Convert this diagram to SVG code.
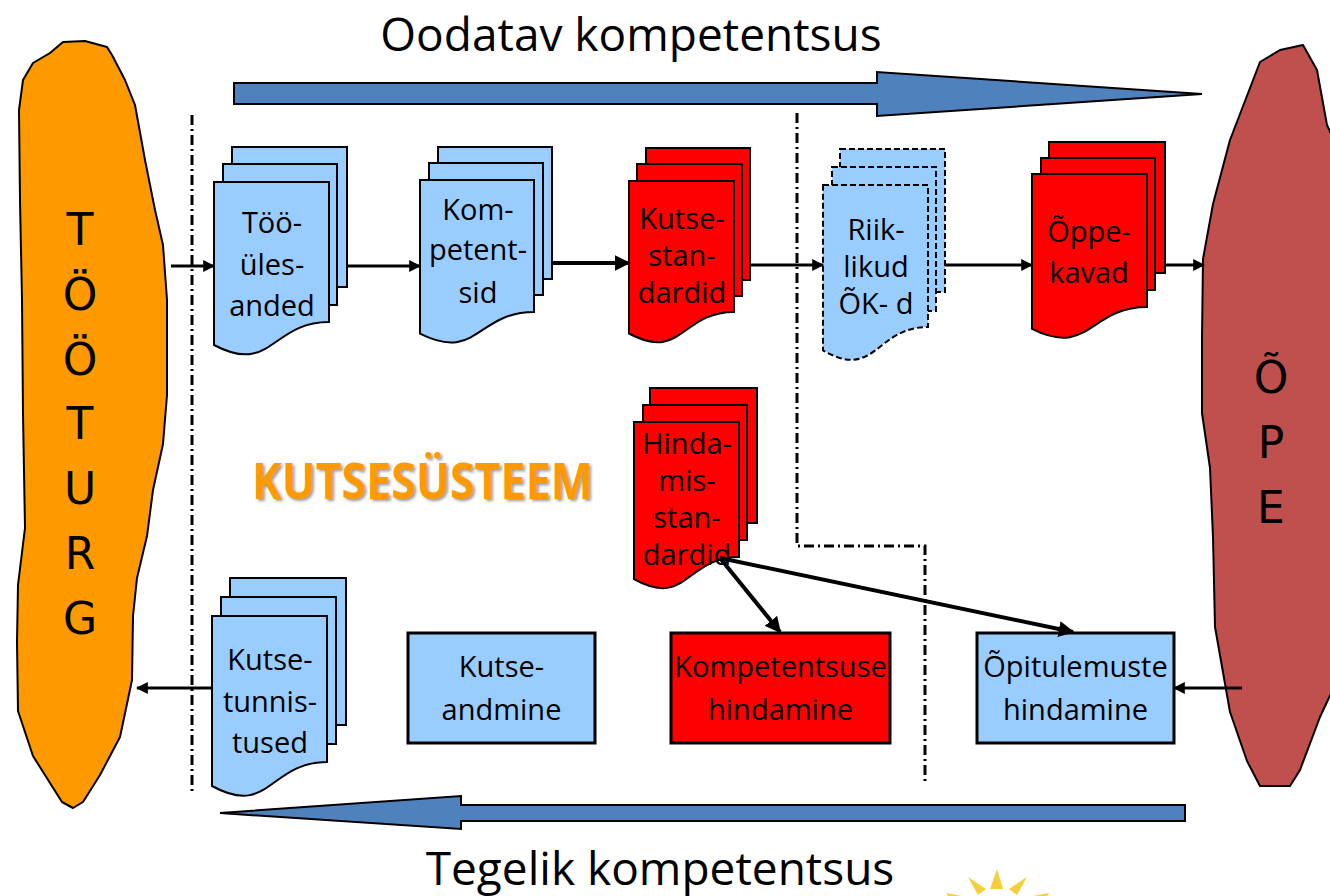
<svg xmlns="http://www.w3.org/2000/svg" width="1330" height="896" viewBox="0 0 1330 896">
<defs>
<style>
.db{fill:#99CCFF;stroke:#000;stroke-width:2}
.dr{fill:#FF0000;stroke:#000;stroke-width:2}
.dd{stroke-dasharray:6 3}
.t{font-family:'Open Sans','DejaVu Sans',sans-serif;font-size:29px;fill:#000;text-anchor:middle}
.big{font-family:'Open Sans','DejaVu Sans',sans-serif;font-size:46px;fill:#000;text-anchor:middle}
.bl{font-family:'DejaVu Sans',sans-serif;font-size:44px;fill:#000;text-anchor:middle}
.con{stroke:#000;stroke-width:3;fill:none;marker-end:url(#ah)}
.thick{stroke-width:4}
.sep{stroke:#000;stroke-width:3;fill:none;stroke-dasharray:10 4 2 4}
.band{fill:#4F81BD;stroke:#000;stroke-width:2}
.box{stroke:#000;stroke-width:3}
.ray{fill:#F6CE3A}
</style>
<marker id="ah" viewBox="0 0 10 10" refX="9" refY="5" markerWidth="4" markerHeight="4" orient="auto" markerUnits="strokeWidth"><path d="M0,0 L10,5 L0,10 Z" fill="#000"/></marker>
<filter id="sh" x="-5%" y="-20%" width="110%" height="140%"><feGaussianBlur stdDeviation="1.5"/></filter>
</defs>
<rect width="1330" height="896" fill="#fff"/>

<!-- separators -->
<g id="separators">
<path class="sep" d="M192,115 V795"/>
<path class="sep" d="M797,113 V546 H925 V782"/>
</g>

<!-- big arrows -->
<g id="expected">
<path class="band" d="M234,83 H877 V72 L1202,94 L877,116 V104 H234 Z"/>
<text class="big" x="631" y="51">Oodatav kompetentsus</text>
</g>
<g id="actual">
<path class="band" d="M1185,805 H461 V796 L220,813 L461,829 V821 H1185 Z"/>
<text class="big" x="660" y="885">Tegelik kompetentsus</text>
</g>

<!-- blobs -->
<g id="tooturg">
<path d="M63,42 L85,41 L107,47 L112,55 L125,80 L135,105 L145,160 L155,210 L163,245 L167,300 L167,395 L163,444 L153,490 L147,536 L137,578 L133,616 L132,680 L128,699 L120,737 L100,775 L83,802 L73,808 L62,802 L50,783 L33,756 L18,711 L17,642 L18,585 L25,528 L23,414 L22,300 L20,200 L19,110 L23,80 L33,63 L50,53 Z" fill="#FF9900" stroke="#000" stroke-width="2" stroke-linejoin="round"/>
<text class="bl" x="80" y="245">T</text>
<text class="bl" x="80" y="310">Ö</text>
<text class="bl" x="80" y="375">Ö</text>
<text class="bl" x="80" y="439">T</text>
<text class="bl" x="80" y="504">U</text>
<text class="bl" x="80" y="569">R</text>
<text class="bl" x="80" y="634">G</text>
</g>
<g id="ope">
<path d="M1303,45 L1317,70 L1327,125 L1334,140 L1334,687 L1320,717 L1300,770 L1290,786 L1260,786 L1247,761 L1230,712 L1215,627 L1213,537 L1210,468 L1202,413 L1202,338 L1203,259 L1213,204 L1230,140 L1260,62 L1280,50 Z" fill="#C0504D" stroke="#000" stroke-width="2" stroke-linejoin="round"/>
<text class="bl" x="1271" y="393">Õ</text>
<text class="bl" x="1271" y="458">P</text>
<text class="bl" x="1271" y="523">E</text>
</g>

<!-- documents -->
<g id="tooulesanded">
<rect class="db" x="232" y="147" width="115" height="140"/>
<rect class="db" x="223" y="164" width="114" height="141"/>
<path class="db" d="M214,182 H329 V322 C271.5,322 271.5,375.5 214,345 Z"/>
<text class="t" x="272" y="233">Töö-</text>
<text class="t" x="272" y="275">üles-</text>
<text class="t" x="272" y="316">anded</text>
</g>
<g id="kompetentsid">
<rect class="db" x="438" y="147" width="114" height="132"/>
<rect class="db" x="429" y="163" width="114" height="132"/>
<path class="db" d="M420,180 H534 V312 C477,312 477,362.4 420,333.7 Z"/>
<text class="t" x="478" y="220">Kom-</text>
<text class="t" x="478" y="260">petent-</text>
<text class="t" x="478" y="303">sid</text>
</g>
<g id="kutsestandardid">
<rect class="dr" x="646" y="148" width="104" height="132"/>
<rect class="dr" x="637" y="164" width="105" height="132"/>
<path class="dr" d="M629,181 H734 V312 C681.5,312 681.5,361.9 629,333.5 Z"/>
<text class="t" x="682" y="229">Kutse-</text>
<text class="t" x="682" y="266">stan-</text>
<text class="t" x="682" y="303">dardid</text>
</g>
<g id="riiklikud">
<rect class="db dd" x="840" y="149" width="105" height="143"/>
<rect class="db dd" x="832" y="167" width="104" height="144"/>
<path class="db dd" d="M823,185 H928 V327 C875.5,327 875.5,381.1 823,350.3 Z"/>
<text class="t" x="876" y="240">Riik-</text>
<text class="t" x="876" y="277">likud</text>
<text class="t" x="876" y="314">ÕK- d</text>
</g>
<g id="oppekavad">
<rect class="dr" x="1049" y="142" width="116" height="131"/>
<rect class="dr" x="1041" y="158" width="114" height="132"/>
<path class="dr" d="M1032,174 H1147 V307 C1089.5,307 1089.5,357.7 1032,328.9 Z"/>
<text class="t" x="1089" y="242">Õppe-</text>
<text class="t" x="1089" y="283">kavad</text>
</g>
<g id="hindamisstandardid">
<rect class="dr" x="650" y="388" width="107" height="135"/>
<rect class="dr" x="643" y="405" width="104" height="135"/>
<path class="dr" d="M634,422 H739 V557 C686.5,557 686.5,608.5 634,579.2 Z"/>
<text class="t" x="687" y="454">Hinda-</text>
<text class="t" x="687" y="491">mis-</text>
<text class="t" x="687" y="528">stan-</text>
<text class="t" x="687" y="565">dardid</text>
</g>
<g id="kutsetunnistused">
<rect class="db" x="230" y="578" width="116" height="147"/>
<rect class="db" x="221" y="597" width="115" height="147"/>
<path class="db" d="M212,616 H327 V762 C269.5,762 269.5,817.7 212,786 Z"/>
<text class="t" x="270" y="670">Kutse-</text>
<text class="t" x="270" y="712">tunnis-</text>
<text class="t" x="270" y="753">tused</text>
</g>

<!-- boxes -->
<g id="kutseandmine">
<rect class="box" x="408" y="633" width="187" height="110" fill="#99CCFF"/>
<text class="t" x="501.5" y="677">Kutse-</text>
<text class="t" x="501.5" y="720">andmine</text>
</g>
<g id="kompetentsusehindamine">
<rect class="box" x="671" y="633" width="219" height="110" fill="#FF0000"/>
<text class="t" x="780.5" y="677">Kompetentsuse</text>
<text class="t" x="780.5" y="720">hindamine</text>
</g>
<g id="opitulemustehindamine">
<rect class="box" x="977" y="633" width="197" height="110" fill="#99CCFF"/>
<text class="t" x="1075.5" y="677">Õpitulemuste</text>
<text class="t" x="1075.5" y="720">hindamine</text>
</g>

<!-- label -->
<g id="kutsesusteem">
<text x="254" y="501" font-family="'Open Sans','DejaVu Sans',sans-serif" font-weight="bold" font-size="50" textLength="341" lengthAdjust="spacingAndGlyphs" fill="#999" filter="url(#sh)">KUTSESÜSTEEM</text>
<text x="252" y="499" font-family="'Open Sans','DejaVu Sans',sans-serif" font-weight="bold" font-size="50" textLength="341" lengthAdjust="spacingAndGlyphs" fill="#FF9900">KUTSESÜSTEEM</text>
</g>

<!-- connectors -->
<g id="connectors">
<path class="con" d="M171,266 L214,266"/>
<path class="con" d="M347,266 L420,266"/>
<path class="con thick" d="M552,263 L629,263"/>
<path class="con" d="M750,265 L823,265"/>
<path class="con" d="M945,265 L1032,265"/>
<path class="con" d="M1165,265 L1204,265"/>
<path class="con" d="M1242,688 L1174,688"/>
<path class="con" d="M212,688 L137,688"/>
<path class="con thick" d="M720,558 L780,632"/>
<path class="con thick" d="M720,558 L1073,632"/>
</g>

<!-- sun fragment -->
<g id="sun">
<polygon class="ray" points="990,889 997,869 1003,889"/>
<polygon class="ray" points="968,877 986,889 978,895"/>
<polygon class="ray" points="1027,877 1009,889 1017,895"/>
<polygon class="ray" points="946,893 962,896 948,896"/>
<polygon class="ray" points="1049,893 1033,896 1047,896"/>
</g>
</svg>
